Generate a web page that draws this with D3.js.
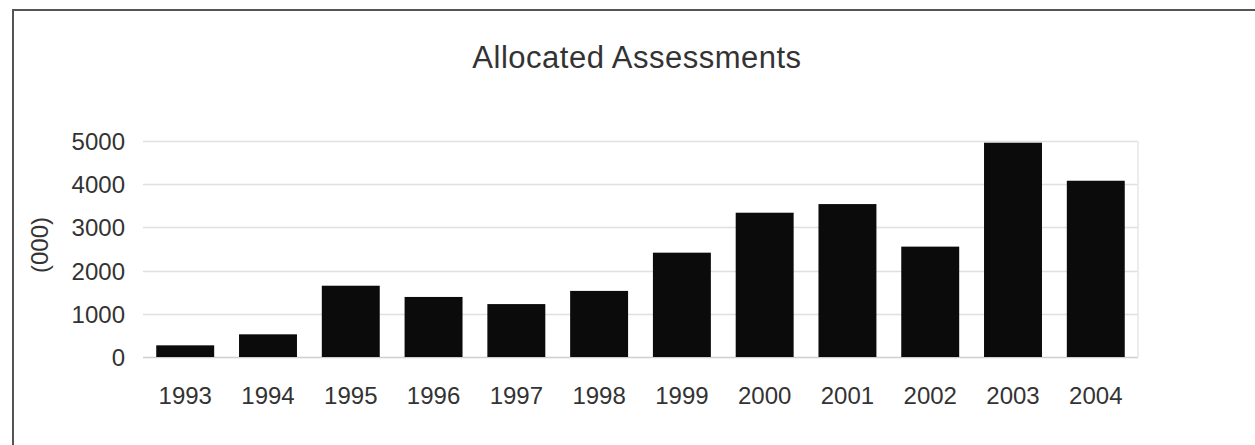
<!DOCTYPE html>
<html>
<head>
<meta charset="utf-8">
<script src="https://cdn.jsdelivr.net/npm/d3@7"></script>
<style>
  html, body { margin: 0; padding: 0; background: #fff; }
  svg { display: block; }
  text { font-family: "Liberation Sans", Arial, sans-serif; fill: #333; }
</style>
</head>
<body>
<svg id="chart" width="1255" height="445"></svg>
<script>
// Allocated assessments per year, in thousands
const years = ["1993","1994","1995","1996","1997","1998","1999","2000","2001","2002","2003","2004"];
const assessments = [270, 525, 1650, 1390, 1225, 1530, 2415, 3340, 3540, 2555, 4960, 4080];
const yTicks = [0, 1000, 2000, 3000, 4000, 5000];
const titleText = "Allocated Assessments";
const yAxisLabel = "(000)";

const svg = d3.select("#chart");
const plot = { left: 143, right: 1138, top: 141, bottom: 357 };

const x = d3.scaleBand()
  .domain(years)
  .range([plot.left, plot.right])
  .paddingInner(0.3)
  .paddingOuter(0.16);

const y = d3.scaleLinear()
  .domain([0, 5000])
  .range([plot.bottom, plot.top]);

// Outer frame: top and left edges only
svg.append("path")
  .attr("d", `M13,445 L13,10 L1255,10`)
  .attr("fill", "none")
  .attr("stroke", "#555")
  .attr("stroke-width", 2);

// Title
svg.append("text")
  .attr("x", 637)
  .attr("y", 68)
  .attr("text-anchor", "middle")
  .style("font-size", "31px")
  .style("letter-spacing", "0.5px")
  .text(titleText);

// Horizontal gridlines
svg.append("g")
  .selectAll("line")
  .data(yTicks)
  .join("line")
  .attr("x1", plot.left)
  .attr("x2", plot.right)
  .attr("y1", d => Math.round(y(d)) + 0.5)
  .attr("y2", d => Math.round(y(d)) + 0.5)
  .attr("stroke", d => d === 0 ? "#cfcfcf" : "#e0e0e0")
  .attr("stroke-width", 1.5);

// Right edge of the plot area
svg.append("line")
  .attr("x1", plot.right).attr("x2", plot.right)
  .attr("y1", plot.top).attr("y2", plot.bottom)
  .attr("stroke", "#e6e6e6")
  .attr("stroke-width", 1.5);

// Y axis tick labels
const yAxis = d3.axisLeft(y).tickValues(yTicks).tickSize(0).tickPadding(18).tickFormat(d3.format("d"));
const gy = svg.append("g").attr("transform", `translate(${plot.left},0)`).call(yAxis);
gy.select(".domain").remove();
gy.selectAll("text").style("font-size", "24px").attr("fill", "#333").attr("dy", "0.35em");

// X axis tick labels
const xAxis = d3.axisBottom(x).tickSize(0).tickPadding(30);
const gx = svg.append("g").attr("transform", `translate(0,${plot.bottom})`).call(xAxis);
gx.select(".domain").remove();
gx.selectAll("text").style("font-size", "24px").attr("fill", "#333");

// Y axis title
svg.append("text")
  .attr("transform", "translate(48,245) rotate(-90)")
  .attr("text-anchor", "middle")
  .style("font-size", "24px")
  .text(yAxisLabel);

// Bars
svg.append("g")
  .selectAll("rect")
  .data(assessments)
  .join("rect")
  .attr("x", (d, i) => x(years[i]))
  .attr("y", d => y(d))
  .attr("width", x.bandwidth())
  .attr("height", d => y(0) - y(d))
  .attr("fill", "#0b0b0b");
</script>
</body>
</html>
